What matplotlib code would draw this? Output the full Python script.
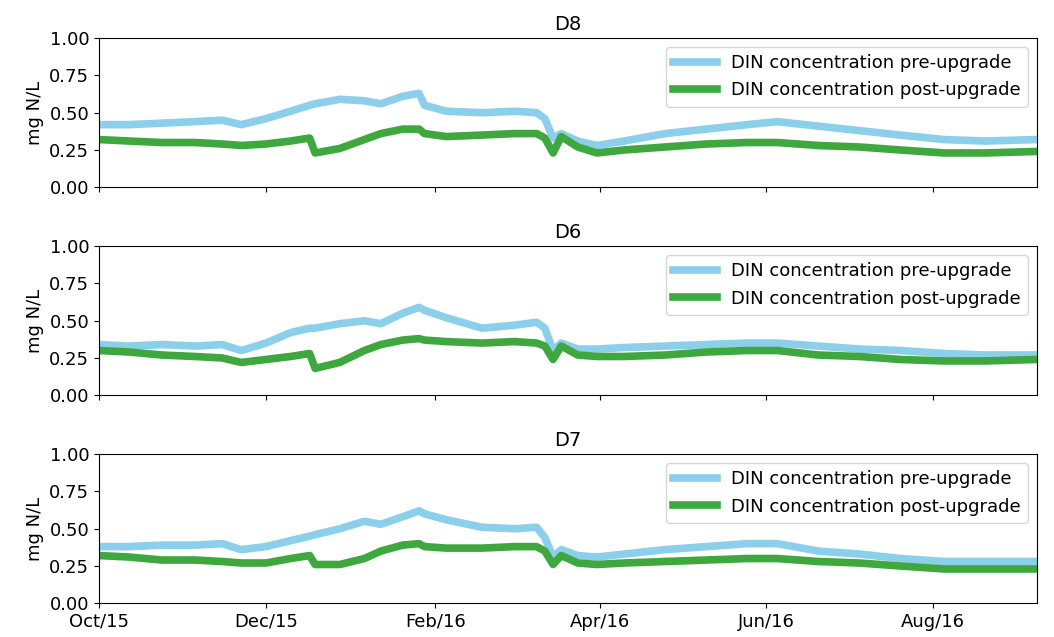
import matplotlib
matplotlib.use("Agg")
import matplotlib.pyplot as plt
import matplotlib.dates as mdates
import pandas as pd

# sample dates shared by all three sites
dates = pd.to_datetime([
    "2015-10-01", "2015-10-12", "2015-10-24", "2015-11-05", "2015-11-15",
    "2015-11-22", "2015-12-01", "2015-12-10", "2015-12-17", "2015-12-19",
    "2015-12-28", "2016-01-06", "2016-01-12", "2016-01-20", "2016-01-26",
    "2016-01-28", "2016-02-05", "2016-02-18", "2016-03-01", "2016-03-09",
    "2016-03-12", "2016-03-15", "2016-03-18", "2016-03-24", "2016-03-31",
    "2016-04-10", "2016-04-25", "2016-05-10", "2016-05-25", "2016-06-05",
    "2016-06-20", "2016-07-05", "2016-07-20", "2016-08-05", "2016-08-20",
    "2016-09-08",
])

d8_pre = [0.42, 0.42, 0.43, 0.44, 0.45, 0.42, 0.46, 0.51, 0.55, 0.56,
          0.59, 0.58, 0.56, 0.61, 0.63, 0.55, 0.51, 0.50, 0.51, 0.50,
          0.46, 0.33, 0.36, 0.31, 0.28, 0.31, 0.36, 0.39, 0.42, 0.44,
          0.41, 0.38, 0.35, 0.32, 0.31, 0.32]
d8_post = [0.32, 0.31, 0.30, 0.30, 0.29, 0.28, 0.29, 0.31, 0.33, 0.23,
           0.26, 0.32, 0.36, 0.39, 0.39, 0.36, 0.34, 0.35, 0.36, 0.36,
           0.33, 0.23, 0.34, 0.27, 0.23, 0.25, 0.27, 0.29, 0.30, 0.30,
           0.28, 0.27, 0.25, 0.23, 0.23, 0.24]

d6_pre = [0.34, 0.33, 0.34, 0.33, 0.34, 0.30, 0.35, 0.42, 0.45, 0.45,
          0.48, 0.50, 0.48, 0.55, 0.59, 0.57, 0.52, 0.45, 0.47, 0.49,
          0.45, 0.30, 0.35, 0.31, 0.31, 0.32, 0.33, 0.34, 0.35, 0.35,
          0.33, 0.31, 0.30, 0.28, 0.27, 0.27]
d6_post = [0.30, 0.29, 0.27, 0.26, 0.25, 0.22, 0.24, 0.26, 0.28, 0.18,
           0.22, 0.30, 0.34, 0.37, 0.38, 0.37, 0.36, 0.35, 0.36, 0.35,
           0.33, 0.24, 0.33, 0.27, 0.26, 0.26, 0.27, 0.29, 0.30, 0.30,
           0.27, 0.26, 0.24, 0.23, 0.23, 0.24]

d7_pre = [0.38, 0.38, 0.39, 0.39, 0.40, 0.36, 0.38, 0.42, 0.45, 0.46,
          0.50, 0.55, 0.53, 0.58, 0.62, 0.60, 0.56, 0.51, 0.50, 0.51,
          0.44, 0.31, 0.36, 0.32, 0.31, 0.33, 0.36, 0.38, 0.40, 0.40,
          0.35, 0.33, 0.30, 0.28, 0.28, 0.28]
d7_post = [0.32, 0.31, 0.29, 0.29, 0.28, 0.27, 0.27, 0.30, 0.32, 0.26,
           0.26, 0.30, 0.35, 0.39, 0.40, 0.38, 0.37, 0.37, 0.38, 0.38,
           0.35, 0.26, 0.32, 0.27, 0.26, 0.27, 0.28, 0.29, 0.30, 0.30,
           0.28, 0.27, 0.25, 0.23, 0.23, 0.23]

sites = ["D8", "D6", "D7"]
pre = [d8_pre, d6_pre, d7_pre]
post = [d8_post, d6_post, d7_post]

fig, axes = plt.subplots(3, 1, sharex=True, figsize=(10.54, 6.37), dpi=100)
fig.subplots_adjust(left=0.094, right=0.984, top=0.940, bottom=0.053, hspace=0.396)

for ax, name, a, b in zip(axes, sites, pre, post):
    ax.plot(dates, a, color="#8ccfea", lw=5.5, label="DIN concentration pre-upgrade")
    ax.plot(dates, b, color="#3ea83e", lw=5.5, label="DIN concentration post-upgrade")
    ax.set_ylim(0, 1)
    ax.set_yticks([0, 0.25, 0.5, 0.75, 1.0])
    ax.set_ylabel("mg N/L", fontsize=13)
    ax.set_title(name, fontsize=14)
    ax.tick_params(labelsize=13)
    ax.legend(loc="upper right", fontsize=13, handlelength=2.4)

axes[-1].set_xlim(pd.Timestamp("2015-10-01"), pd.Timestamp("2016-09-08"))
axes[-1].xaxis.set_major_locator(mdates.MonthLocator(bymonth=[2, 4, 6, 8, 10, 12]))
axes[-1].xaxis.set_major_formatter(mdates.DateFormatter("%b/%y"))

fig.savefig("out.png", dpi=100)
